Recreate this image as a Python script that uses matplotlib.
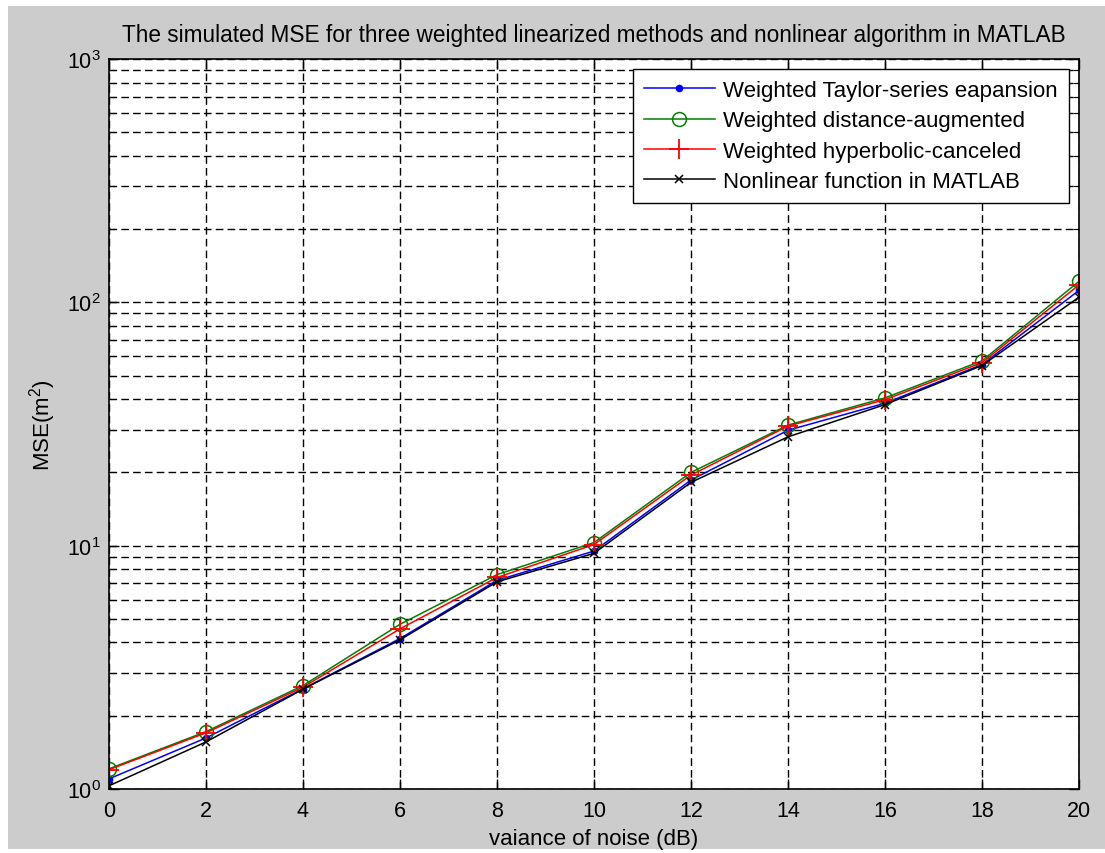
"""
MSE vs noise variance for three weighted linearized methods and the
nonlinear solver, drawn in the old MATLAB figure look.
"""
import matplotlib
matplotlib.use('Agg')
import matplotlib.pyplot as plt
from matplotlib.ticker import LogLocator, NullFormatter, MultipleLocator

plt.rcParams['font.family'] = ['Liberation Sans', 'DejaVu Sans']
plt.rcParams['mathtext.fontset'] = 'custom'
plt.rcParams['mathtext.rm'] = 'Liberation Sans'

# values
noise_db = [0, 2, 4, 6, 8, 10, 12, 14, 16, 18, 20]
mse_taylor = [1.10, 1.62, 2.58, 4.15, 7.2, 9.5, 18.6, 29.8, 38.5, 55.5, 112]
mse_distance = [1.21, 1.72, 2.66, 4.75, 7.6, 10.3, 20.0, 31.3, 40.5, 57.5, 122]
mse_hyperbolic = [1.20, 1.70, 2.62, 4.55, 7.4, 10.1, 19.5, 31.0, 39.8, 56.5, 118]
mse_nonlinear = [1.03, 1.56, 2.57, 4.10, 7.1, 9.3, 18.2, 28.0, 38.0, 55.0, 105]

series_labels = ['Weighted Taylor-series eapansion',
                 'Weighted distance-augmented',
                 'Weighted hyperbolic-canceled',
                 'Nonlinear function in MATLAB']

GRAY = '#cccccc'
DASH = (0, (5.5, 3))

fig = plt.figure(figsize=(11.05, 8.54), dpi=100)
fig.patch.set_facecolor('white')
# gray MATLAB figure area with a thin white margin round it
fig.add_artist(plt.Rectangle((0.007, 0.005), 0.993, 0.987, transform=fig.transFigure,
                             facecolor=GRAY, edgecolor='none', zorder=-10))

ax = fig.add_axes([0.0986, 0.075, 0.8779, 0.8547])
ax.set_facecolor('white')

ax.plot(noise_db, mse_taylor, color='blue', marker='.', ms=9, lw=1.1, label=series_labels[0])
ax.plot(noise_db, mse_distance, color='#008000', marker='o', ms=10, mfc='none', mew=1.1,
        lw=1.1, label=series_labels[1])
ax.plot(noise_db, mse_hyperbolic, color='red', marker='+', ms=15, mew=1.3, lw=1.1,
        label=series_labels[2])
ax.plot(noise_db, mse_nonlinear, color='black', marker='x', ms=6, mew=1.1, lw=1.1,
        label=series_labels[3])

ax.set_yscale('log')
ax.set_xlim(0, 20)
ax.set_ylim(1, 1000)
ax.xaxis.set_major_locator(MultipleLocator(2))
ax.yaxis.set_major_locator(LogLocator(base=10, numticks=10))
ax.yaxis.set_minor_locator(LogLocator(base=10, subs=range(2, 10), numticks=20))
ax.yaxis.set_minor_formatter(NullFormatter())

ax.grid(True, which='both', axis='y', color='black', linestyle=DASH, lw=1.0)
ax.grid(True, which='major', axis='x', color='black', linestyle=DASH, lw=1.0)

ax.tick_params(which='both', direction='in', top=True, right=True, labelsize=15.5,
               colors='black')
ax.tick_params(axis='x', pad=8)
ax.tick_params(axis='y', pad=6)
ax.tick_params(which='major', length=7, width=1)
ax.tick_params(which='minor', length=4, width=0.8)
for spine in ax.spines.values():
    spine.set_linewidth(1.2)

ax.set_title('The simulated MSE for three weighted linearized methods and nonlinear '
             'algorithm in MATLAB', fontsize=16.3, pad=13)
ax.set_xlabel('vaiance of noise (dB)', fontsize=16, labelpad=5)
ax.set_ylabel('MSE(m$^2$)', fontsize=16, labelpad=6)

leg = ax.legend(loc='upper right', fontsize=16, frameon=True, fancybox=False,
                edgecolor='black', framealpha=1, borderpad=0.5, handlelength=3.2,
                handletextpad=0.38, labelspacing=0.42, borderaxespad=0.45)
leg.get_frame().set_linewidth(1.0)

fig.savefig('out.png', dpi=100, facecolor=fig.get_facecolor())
